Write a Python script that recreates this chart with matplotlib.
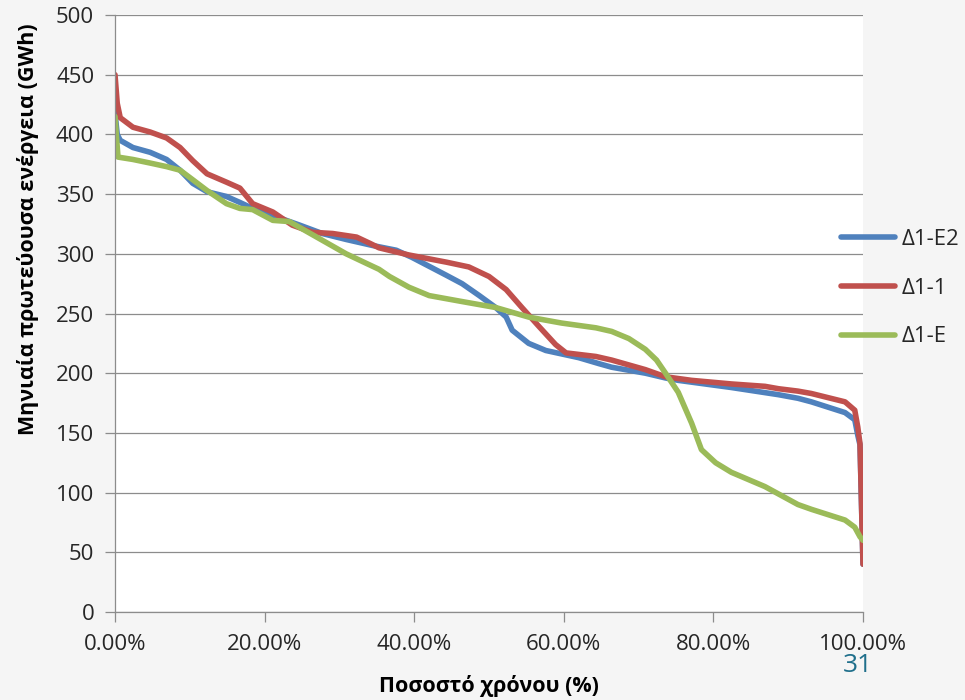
import matplotlib
matplotlib.use("Agg")
import matplotlib.pyplot as plt
from matplotlib.ticker import PercentFormatter, MultipleLocator

plt.rcParams['font.family'] = ['Open Sans', 'DejaVu Sans']

# Duration curves: share of time (%) vs monthly primary energy (GWh)
x_e2 = [0, 0.3, 0.7, 2.4, 4.7, 6.9, 8.7, 10.4, 12.3, 14.9, 16.7, 18.4, 21.1, 22.0,
        24.7, 27.7, 30.9, 34.4, 37.6, 39.7, 44.3, 46.4, 48.7, 50.9, 52.3, 53.1,
        55.3, 57.6, 62.0, 64.7, 66.4, 70.9, 73.6, 75.3, 82.4, 88.7, 91.3, 93.1,
        97.6, 98.9, 99.3, 99.6, 100]
y_e2 = [418, 400, 395, 389, 385, 379, 370, 359, 352, 348, 343, 338, 332, 330,
        324, 317, 312, 307, 303, 297, 282, 275, 265, 255, 247, 236,
        225, 219, 213, 208, 205, 200, 196, 194, 188, 182, 179, 176,
        167, 161, 148, 140, 40]

x_11 = [0, 0.3, 0.7, 2.4, 4.7, 6.9, 8.7, 10.4, 12.3, 14.9, 16.7, 18.4, 21.1,
        23.7, 26.4, 29.1, 32.3, 34.0, 35.3, 39.3, 44.3, 47.3, 50.0, 52.3, 54.4,
        56.7, 58.9, 60.3, 64.3, 66.4, 70.9, 73.6, 77.1, 82.4, 86.9, 88.7, 91.3,
        93.1, 97.6, 98.9, 99.3, 99.6, 100]
y_11 = [450, 426, 414, 406, 402, 397, 389, 378, 367, 360, 355, 342, 335,
        324, 318, 317, 314, 309, 305, 299, 293, 289, 281, 270, 255,
        239, 224, 217, 214, 211, 203, 197, 194, 191, 189, 187, 185,
        183, 176, 169, 155, 141, 40]

x_e = [0, 0.4, 2.4, 4.7, 6.9, 8.7, 10.4, 12.3, 14.9, 16.7, 18.4, 21.1, 23.3,
       26.4, 30.9, 33.6, 35.3, 36.7, 39.3, 42.0, 46.4, 50.9, 55.3, 59.7, 64.3,
       66.4, 68.7, 70.9, 72.4, 73.6, 75.3, 77.1, 78.4, 80.3, 82.4, 86.9, 91.3,
       93.1, 97.6, 98.9, 99.6, 100]
y_e = [415, 381, 379, 376, 373, 370, 362, 353, 342, 338, 337, 328, 327,
       316, 300, 292, 287, 281, 272, 265, 260, 255, 247, 242, 238,
       235, 229, 220, 211, 200, 184, 158, 136, 125, 117, 105, 90,
       86, 77, 71, 63, 60]

series = [
    ("Δ1-E2", x_e2, y_e2, "#4F81BD"),
    ("Δ1-1", x_11, y_11, "#C0504D"),
    ("Δ1-E", x_e, y_e, "#9BBB59"),
]

x_ticks = [0, 0.2, 0.4, 0.6, 0.8, 1.0]

W, H = 965, 700
fig = plt.figure(figsize=(W / 100, H / 100), dpi=100)
fig.patch.set_facecolor("#f5f5f5")

left, right, top, bottom = 115, 863, 15, 612
ax = fig.add_axes([left / W, 1 - bottom / H, (right - left) / W, (bottom - top) / H])
ax.set_facecolor("white")

for name, xs, ys, col in series:
    ax.plot([v / 100 for v in xs], ys, color=col, lw=4.0, label=name,
            solid_capstyle="round", solid_joinstyle="round")

ax.set_xlim(0, 1)
ax.set_ylim(0, 500)
ax.set_xticks(x_ticks)
ax.xaxis.set_major_formatter(PercentFormatter(xmax=1, decimals=2))
ax.yaxis.set_major_locator(MultipleLocator(50))

grid_col = "#8c8c8c"
ax.grid(axis="y", color=grid_col, lw=0.9)
ax.set_axisbelow(True)
for s in ("top", "right"):
    ax.spines[s].set_visible(False)
for s in ("left", "bottom"):
    ax.spines[s].set_color(grid_col)
    ax.spines[s].set_linewidth(0.9)

ax.tick_params(axis="both", colors=grid_col, labelcolor="#262626",
               labelsize=16, length=7, width=0.9)
ax.tick_params(axis="y", pad=8)
ax.tick_params(axis="x", pad=9)

fig.text(28 / W, 1 - 229 / H, "Μηνιαία πρωτεύουσα ενέργεια (GWh)",
         rotation=90, ha="center", va="center", fontsize=15.5,
         fontweight="bold", color="black")
fig.text(489 / W, 1 - 686 / H, "Ποσοστό χρόνου (%)", ha="center", va="center",
         fontsize=15.5, fontweight="bold", color="black")

leg = fig.legend(loc="center left", bbox_to_anchor=(841 / W, 1 - 288 / H),
                 frameon=False, fontsize=16, handlelength=2.45,
                 handletextpad=0.3, labelspacing=1.25, borderpad=0,
                 borderaxespad=0)
for t in leg.get_texts():
    t.set_color("#262626")
for h in leg.legend_handles:
    h.set_linewidth(4.0)
    h.set_solid_capstyle("round")

fig.text(858 / W, 1 - 666 / H, "31", ha="center", va="center",
         fontsize=19, color="#1f6f8b")

fig.savefig("out.png", dpi=100, facecolor=fig.get_facecolor())
